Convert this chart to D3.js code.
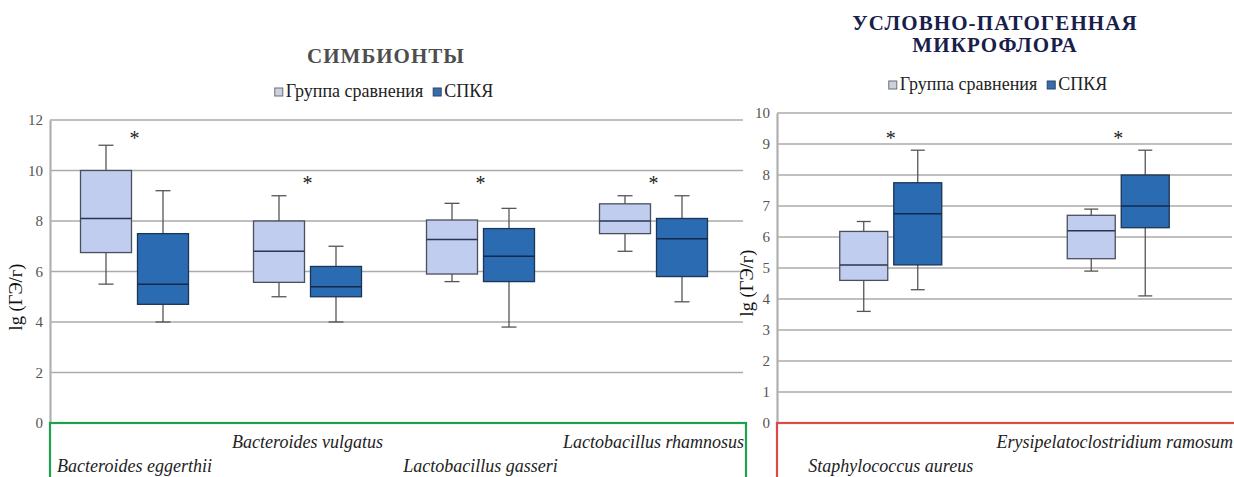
<!DOCTYPE html>
<html>
<head>
<meta charset="utf-8">
<script src="https://cdnjs.cloudflare.com/ajax/libs/d3/7.8.5/d3.min.js"></script>
<style>
  html, body { margin: 0; padding: 0; background: #fff; }
  svg { display: block; }
  svg text { font-family: "Liberation Serif", "Times New Roman", Times, serif; }
</style>
</head>
<body>
<svg id="chart" width="1234" height="477"></svg>
<script>
// Box statistics per category: [min, Q1, median, Q3, max], log10 GE/g

// Symbionts panel
const symCategories = ["Bacteroides eggerthii", "Bacteroides vulgatus", "Lactobacillus gasseri", "Lactobacillus rhamnosus"];
const symControl = [
  [5.5, 6.75, 8.1, 10.0, 11.0],
  [5.0, 5.57, 6.8, 8.0, 9.0],
  [5.6, 5.9, 7.27, 8.04, 8.7],
  [6.8, 7.5, 8.0, 8.68, 9.0]
];
const symPcos = [
  [4.0, 4.7, 5.5, 7.5, 9.2],
  [4.0, 5.0, 5.4, 6.2, 7.0],
  [3.8, 5.6, 6.6, 7.7, 8.5],
  [4.8, 5.8, 7.3, 8.1, 9.0]
];
const symStars = [11.35, 9.6, 9.6, 9.6];
const symTicks = [0, 2, 4, 6, 8, 10, 12];

// Opportunistic flora panel
const oppCategories = ["Staphylococcus aureus", "Erysipelatoclostridium ramosum"];
const oppControl = [
  [3.6, 4.6, 5.1, 6.18, 6.5],
  [4.9, 5.3, 6.2, 6.7, 6.9]
];
const oppPcos = [
  [4.3, 5.1, 6.75, 7.75, 8.8],
  [4.1, 6.3, 7.0, 8.0, 8.8]
];
const oppStars = [9.26, 9.26];
const oppTicks = [0, 1, 2, 3, 4, 5, 6, 7, 8, 9, 10];

const seriesNames = ["Группа сравнения", "СПКЯ"];

const svg = d3.select("#chart");

const boxStyle = [
  { fill: "#c1cdee", stroke: "#4a4f5c", median: "#2a3550", legend: "#cdd1dc", legendStroke: "#6a6d75" },
  { fill: "#2b6bb2", stroke: "#1d3556", median: "#13284a", legend: "#3a6da8", legendStroke: "#24476f" }
];

function drawPanel(cfg) {
  const g = svg.append("g");
  const y = d3.scaleLinear().domain(cfg.domain).range([cfg.bottom, cfg.top]);
  const x = d3.scaleBand().domain(cfg.categories).range([cfg.left, cfg.right]);

  // horizontal gridlines
  g.append("g").selectAll("line").data(cfg.ticks.filter(t => t > 0)).join("line")
    .attr("x1", cfg.left).attr("x2", cfg.gridRight)
    .attr("y1", d => y(d)).attr("y2", d => y(d))
    .attr("stroke", "#ababab").attr("stroke-width", 1.6);

  // value axis
  const axis = g.append("g").attr("transform", `translate(${cfg.left},0)`)
    .call(d3.axisLeft(y).tickValues(cfg.ticks).tickSize(0).tickPadding(7));
  axis.attr("font-family", null);
  axis.select(".domain").attr("stroke", "#b0b0b0").attr("stroke-width", 2.2);
  axis.selectAll("text").attr("font-size", 15).attr("fill", "#555");

  // axis title
  g.append("text")
    .attr("transform", `translate(${cfg.yLabelX},${cfg.yLabelY}) rotate(-90)`)
    .attr("text-anchor", "middle").attr("dominant-baseline", "middle")
    .attr("font-size", 18.5).attr("fill", "#111")
    .text("lg (ГЭ/г)");

  // boxes
  const bw = cfg.boxWidth, gap = cfg.gap;
  [cfg.control, cfg.pcos].forEach((series, si) => {
    const st = boxStyle[si];
    const grp = g.append("g").selectAll("g").data(series).join("g");
    const cx = (d, i) => {
      const c = x(cfg.categories[i]) + x.bandwidth() / 2 + cfg.shift;
      return si === 0 ? c - gap / 2 - bw / 2 : c + gap / 2 + bw / 2;
    };
    // whisker stems
    grp.append("line")
      .attr("x1", cx).attr("x2", cx)
      .attr("y1", d => y(d[4])).attr("y2", d => y(d[0]))
      .attr("stroke", "#555").attr("stroke-width", 1.3);
    // caps
    [0, 4].forEach(k => {
      grp.append("line")
        .attr("x1", (d, i) => cx(d, i) - cfg.cap / 2).attr("x2", (d, i) => cx(d, i) + cfg.cap / 2)
        .attr("y1", d => y(d[k])).attr("y2", d => y(d[k]))
        .attr("stroke", "#555").attr("stroke-width", 1.3);
    });
    // box body
    grp.append("rect")
      .attr("x", (d, i) => cx(d, i) - bw / 2).attr("width", bw)
      .attr("y", d => y(d[3])).attr("height", d => y(d[1]) - y(d[3]))
      .attr("fill", st.fill).attr("stroke", st.stroke).attr("stroke-width", 1.3);
    // median
    grp.append("line")
      .attr("x1", (d, i) => cx(d, i) - bw / 2).attr("x2", (d, i) => cx(d, i) + bw / 2)
      .attr("y1", d => y(d[2])).attr("y2", d => y(d[2]))
      .attr("stroke", st.median).attr("stroke-width", 1.5);
  });

  // significance marks
  g.append("g").selectAll("text").data(cfg.stars).join("text")
    .attr("x", (d, i) => x(cfg.categories[i]) + x.bandwidth() / 2 + cfg.shift)
    .attr("y", d => y(d) + 9)
    .attr("text-anchor", "middle")
    .attr("font-size", 20).attr("fill", "#222")
    .text("*");

  // category frame
  g.append("rect")
    .attr("x", cfg.left).attr("y", y(0))
    .attr("width", cfg.frameRight - cfg.left).attr("height", 80)
    .attr("fill", "none").attr("stroke", cfg.frameColor).attr("stroke-width", 2.2);

  // staggered category labels, kept inside the panel's right edge
  g.append("g").selectAll("text").data(cfg.categories).join("text")
    .attr("x", d => x(d) + x.bandwidth() / 2 + cfg.shift)
    .attr("y", (d, i) => i % 2 === 0 ? 472 : 448)
    .attr("text-anchor", "middle")
    .attr("font-style", "italic").attr("font-size", 18).attr("fill", "#222")
    .text(d => d)
    .each(function () {
      const b = this.getBBox();
      const over = b.x + b.width - cfg.labelMaxX;
      if (over > 0) d3.select(this).attr("x", +d3.select(this).attr("x") - over);
    });

  // title
  const title = g.append("text")
    .attr("text-anchor", "middle")
    .attr("font-weight", "bold").attr("font-size", 21)
    .attr("letter-spacing", cfg.titleSpacing).attr("fill", cfg.titleColor);
  cfg.title.forEach((line, i) => {
    title.append("tspan").attr("x", cfg.titleX).attr("y", cfg.titleY + i * 22).text(line);
  });

  // legend
  const leg = g.append("g");
  const items = leg.selectAll("g").data(seriesNames).join("g");
  items.append("rect").attr("width", 8).attr("height", 8).attr("y", -9)
    .attr("fill", (d, i) => boxStyle[i].legend)
    .attr("stroke", (d, i) => boxStyle[i].legendStroke).attr("stroke-width", 1);
  items.append("text").attr("x", 11).attr("y", 0)
    .attr("font-size", 18).attr("fill", "#222")
    .text(d => d);
  let off = 0;
  items.each(function () {
    d3.select(this).attr("transform", `translate(${off},0)`);
    off += this.getBBox().width + 10;
  });
  leg.attr("transform", `translate(${cfg.legendX - (off - 10) / 2},${cfg.legendY})`);
}

drawPanel({
  categories: symCategories, control: symControl, pcos: symPcos, stars: symStars,
  ticks: symTicks, domain: [0, 12],
  left: 50, right: 742, gridRight: 743, frameRight: 746, top: 120, bottom: 423,
  boxWidth: 51, gap: 6, cap: 15, shift: -2, labelMaxX: 745,
  yLabelX: 18, yLabelY: 297,
  title: ["СИМБИОНТЫ"], titleX: 386, titleY: 63, titleColor: "#4e4e4e", titleSpacing: 1,
  legendX: 384, legendY: 97, frameColor: "#1fa04c"
});

drawPanel({
  categories: oppCategories, control: oppControl, pcos: oppPcos, stars: oppStars,
  ticks: oppTicks, domain: [0, 10],
  left: 777, right: 1232, gridRight: 1232, frameRight: 1240, top: 113, bottom: 423,
  boxWidth: 48, gap: 6, cap: 14, shift: 0, labelMaxX: 1233,
  yLabelX: 749, yLabelY: 283,
  title: ["УСЛОВНО-ПАТОГЕННАЯ", "МИКРОФЛОРА"], titleX: 995, titleY: 30, titleColor: "#18204a", titleSpacing: 1.1,
  legendX: 998, legendY: 90, frameColor: "#d94a48"
});
</script>
</body>
</html>
